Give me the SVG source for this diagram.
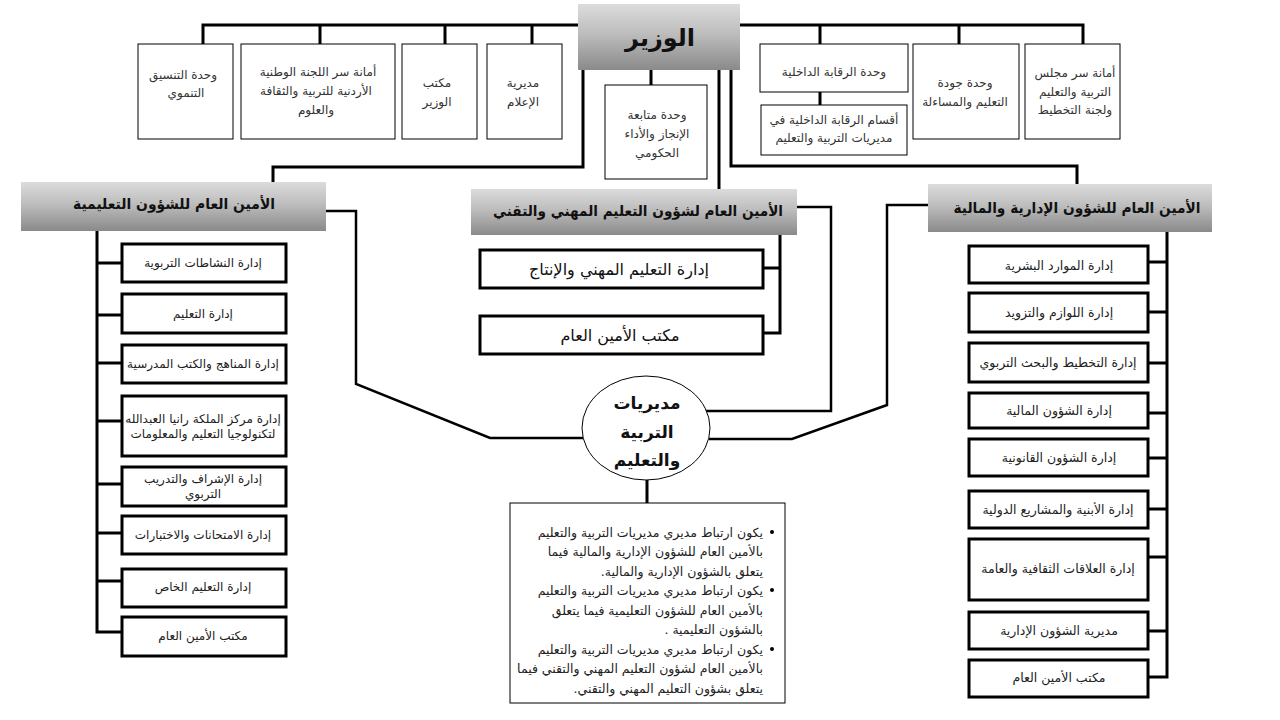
<svg xmlns="http://www.w3.org/2000/svg" width="1280" height="720" viewBox="0 0 1280 720">
<defs>
<linearGradient id="g" x1="0" y1="0" x2="0" y2="1">
<stop offset="0" stop-color="#dcdcdc"/>
<stop offset="0.45" stop-color="#bdbdbd"/>
<stop offset="1" stop-color="#8a8a8a"/>
</linearGradient>
</defs>
<style>
.thin{fill:#fff;stroke:#000;stroke-width:1}
.thick{fill:#fff;stroke:#000;stroke-width:3}
.head{fill:url(#g);stroke:none}
.ln{fill:none;stroke:#000;stroke-width:3}
.ln2{fill:none;stroke:#000;stroke-width:2.5}
text{font-family:'DejaVu Sans','Liberation Sans',sans-serif;direction:rtl;text-anchor:middle;dominant-baseline:central}
.s{font-size:12px;fill:#333}
.m{font-size:12px;fill:#222}
.r{font-size:12.5px;fill:#222}
.b{font-size:15px;font-weight:bold;fill:#111}
.mid{font-size:16px;fill:#111}
.l{font-size:12.5px;fill:#222;text-anchor:start}
.e{font-size:17px;font-weight:bold;fill:#111}
</style>
<rect width="1280" height="720" fill="#fff"/>

<g id="connectors">
<path class="ln" d="M203,44 V25 H578 M320,25 V44 M445,25 V44 M532,25 V44"/>
<path class="ln" d="M740,25 H1083 V44 M820,25 V44 M959,25 V44 M820,92 V105"/>
<path class="ln" d="M651,70 V85"/>
<path class="ln" d="M583,70 V167 H273 V182"/>
<path class="ln" d="M731,70 V166 H1077 V185"/>
<path class="ln" d="M719,70 V190"/>
<path class="ln" d="M97,231 V632 H122 M97,263 H122 M97,315 H122 M97,363 H122 M97,421 H122 M97,484 H122 M97,533 H122 M97,581 H122"/>
<path class="ln" d="M1167,232 V677 H1148 M1167,262 H1148 M1167,312 H1148 M1167,363 H1148 M1167,413 H1148 M1167,458 H1148 M1167,509 H1148 M1167,557 H1148 M1167,631 H1148"/>
<path class="ln" d="M780,235 V333 H763 M780,268 H763"/>
<path class="ln2" d="M326,211 H356 V384 L490,438 H583"/>
<path class="ln2" d="M797,207 H831 V411 H706"/>
<path class="ln2" d="M928,205 H887 V405 L792,439 H709"/>
<path class="ln" d="M647,480 V503"/>
</g>

<g id="minister">
<rect class="head" x="578" y="4" width="162" height="66"/>
<text x="660" y="38" style="font-size:24px;font-weight:bold;fill:#111">الوزير</text>
</g>

<g id="tanseeq">
<rect class="thin" x="138" y="44" width="95" height="95"/>
<text class="s" x="183" y="75">وحدة التنسيق</text>
<text class="s" x="186" y="93">التنموي</text>
</g>
<g id="lajna">
<rect class="thin" x="241" y="44" width="154" height="95"/>
<text class="s" x="318" y="72">أمانة سر اللجنة الوطنية</text>
<text class="s" x="316" y="91">الأردنية للتربية والثقافة</text>
<text class="s" x="316" y="110">والعلوم</text>
</g>
<g id="maktab-wazir">
<rect class="thin" x="402" y="44" width="75" height="95"/>
<text class="s" x="437" y="83">مكتب</text>
<text class="s" x="437" y="102">الوزير</text>
</g>
<g id="ilam">
<rect class="thin" x="487" y="44" width="75" height="95"/>
<text class="s" x="523" y="83">مديرية</text>
<text class="s" x="523" y="102">الإعلام</text>
</g>
<g id="mutabaa">
<rect class="thin" x="605" y="85" width="102" height="94"/>
<text class="s" x="657" y="115">وحدة متابعة</text>
<text class="s" x="657" y="134">الإنجاز والأداء</text>
<text class="s" x="657" y="153">الحكومي</text>
</g>
<g id="raqaba">
<rect class="thin" x="760" y="44" width="148" height="48"/>
<text class="s" x="834" y="72">وحدة الرقابة الداخلية</text>
</g>
<g id="aqsam-raqaba">
<rect class="thin" x="761" y="105" width="146" height="50"/>
<text class="s" x="834" y="120">أقسام الرقابة الداخلية في</text>
<text class="s" x="834" y="138">مديريات التربية والتعليم</text>
</g>
<g id="jawda">
<rect class="thin" x="913" y="44" width="106" height="95"/>
<text class="s" x="965" y="83">وحدة جودة</text>
<text class="s" x="965" y="102">التعليم والمساءلة</text>
</g>
<g id="majlis">
<rect class="thin" x="1025" y="44" width="95" height="95"/>
<text class="s" x="1075" y="73">أمانة سر مجلس</text>
<text class="s" x="1075" y="92">التربية والتعليم</text>
<text class="s" x="1075" y="110">ولجنة التخطيط</text>
</g>

<g id="sec-taalimiya">
<rect class="head" x="21" y="182" width="305" height="49"/>
<text class="b" x="174" y="204" textLength="202" lengthAdjust="spacingAndGlyphs">الأمين العام للشؤون التعليمية</text>
</g>
<g id="sec-mihani">
<rect class="head" x="471" y="189" width="326" height="46"/>
<text class="b" x="638" y="211" textLength="290" lengthAdjust="spacingAndGlyphs">الأمين العام لشؤون التعليم المهني والتقني</text>
</g>
<g id="sec-idariya">
<rect class="head" x="928" y="184" width="284" height="48"/>
<text class="b" x="1077" y="208" textLength="247" lengthAdjust="spacingAndGlyphs">الأمين العام للشؤون الإدارية والمالية</text>
</g>

<g id="l1"><rect class="thick" x="122" y="244" width="164" height="38"/><text class="m" x="203" y="263">إدارة النشاطات التربوية</text></g>
<g id="l2"><rect class="thick" x="122" y="294" width="164" height="39"/><text class="m" x="203" y="314">إدارة التعليم</text></g>
<g id="l3"><rect class="thick" x="122" y="345" width="164" height="38"/><text class="m" x="203" y="364">إدارة المناهج والكتب المدرسية</text></g>
<g id="l4"><rect class="thick" x="122" y="396" width="164" height="60"/><text class="m" x="203" y="419">إدارة مركز الملكة رانيا العبدالله</text><text class="m" x="203" y="434">لتكنولوجيا التعليم والمعلومات</text></g>
<g id="l5"><rect class="thick" x="122" y="467" width="164" height="39"/><text class="m" x="203" y="479">إدارة الإشراف والتدريب</text><text class="m" x="203" y="494">التربوي</text></g>
<g id="l6"><rect class="thick" x="122" y="516" width="164" height="38"/><text class="m" x="203" y="535">إدارة الامتحانات والاختبارات</text></g>
<g id="l7"><rect class="thick" x="122" y="569" width="164" height="38"/><text class="m" x="203" y="587">إدارة التعليم الخاص</text></g>
<g id="l8"><rect class="thick" x="122" y="617" width="164" height="39"/><text class="m" x="203" y="636">مكتب الأمين العام</text></g>

<g id="m1"><rect class="thick" x="480" y="250" width="283" height="38"/><text class="mid" x="619" y="269">إدارة التعليم المهني والإنتاج</text></g>
<g id="m2"><rect class="thick" x="480" y="316" width="283" height="38"/><text class="mid" x="620" y="335">مكتب الأمين العام</text></g>

<g id="r1"><rect class="thick" x="969" y="246" width="179" height="37"/><text class="r" x="1059" y="265">إدارة الموارد البشرية</text></g>
<g id="r2"><rect class="thick" x="969" y="293" width="179" height="39"/><text class="r" x="1059" y="312">إدارة اللوازم والتزويد</text></g>
<g id="r3"><rect class="thick" x="969" y="343" width="179" height="39"/><text class="r" x="1058" y="362">إدارة التخطيط والبحث التربوي</text></g>
<g id="r4"><rect class="thick" x="969" y="393" width="179" height="35"/><text class="r" x="1059" y="410">إدارة الشؤون المالية</text></g>
<g id="r5"><rect class="thick" x="969" y="439" width="179" height="37"/><text class="r" x="1059" y="457">إدارة الشؤون القانونية</text></g>
<g id="r6"><rect class="thick" x="969" y="491" width="179" height="37"/><text class="r" x="1058" y="509">إدارة الأبنية والمشاريع الدولية</text></g>
<g id="r7"><rect class="thick" x="969" y="539" width="179" height="61"/><text class="r" x="1058" y="568">إدارة العلاقات الثقافية والعامة</text></g>
<g id="r8"><rect class="thick" x="969" y="612" width="179" height="37"/><text class="r" x="1059" y="630">مديرية الشؤون الإدارية</text></g>
<g id="r9"><rect class="thick" x="969" y="660" width="179" height="37"/><text class="r" x="1059" y="677">مكتب الأمين العام</text></g>

<g id="mudiriyat">
<ellipse class="thin" cx="646" cy="428" rx="64" ry="52"/>
<text class="e" x="647" y="403">مديريات</text>
<text class="e" x="647" y="432">التربية</text>
<text class="e" x="647" y="460">والتعليم</text>
</g>

<g id="notes">
<rect class="thin" x="510" y="503" width="275" height="200"/>
<circle cx="772" cy="532" r="2"/>
<circle cx="772" cy="590" r="2"/>
<circle cx="772" cy="649" r="2"/>
<text class="l" x="763" y="532">يكون ارتباط مديري مديريات التربية والتعليم</text>
<text class="l" x="763" y="551">بالأمين العام للشؤون الإدارية والمالية فيما</text>
<text class="l" x="763" y="571">يتعلق بالشؤون الإدارية والمالية.</text>
<text class="l" x="763" y="590">يكون ارتباط مديري مديريات التربية والتعليم</text>
<text class="l" x="763" y="610">بالأمين العام للشؤون التعليمية فيما يتعلق</text>
<text class="l" x="763" y="629">بالشؤون التعليمية .</text>
<text class="l" x="763" y="649">يكون ارتباط  مديري مديريات التربية والتعليم</text>
<text class="l" x="763" y="668">بالأمين العام لشؤون التعليم المهني والتقني فيما</text>
<text class="l" x="763" y="688">يتعلق بشؤون التعليم المهني والتقني.</text>
</g>
</svg>
